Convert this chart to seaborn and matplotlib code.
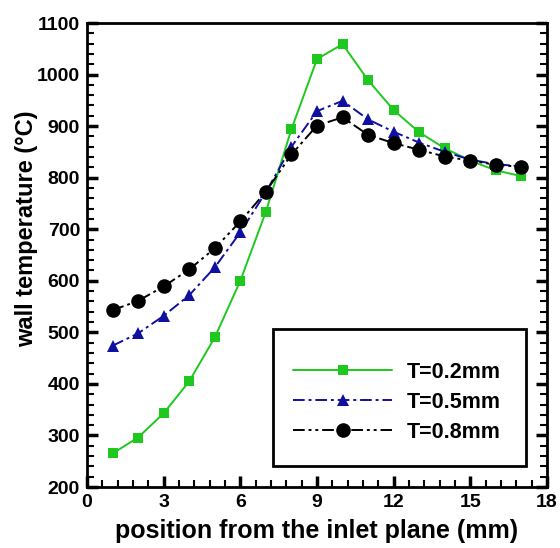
import matplotlib
matplotlib.use("Agg")
import matplotlib.pyplot as plt
from matplotlib.ticker import MultipleLocator
from matplotlib.patches import Rectangle
import numpy as np
import pandas as pd
import seaborn as sns

# Wall temperature along the channel for three wall thicknesses
position_mm = [1, 2, 3, 4, 5, 6, 7, 8, 9, 10, 11, 12, 13, 14, 15, 16, 17]
temp_t02 = [265, 296, 343, 405, 490, 600, 734, 894, 1030, 1059, 989, 931, 888, 857, 833, 814, 803]
temp_t05 = [474, 498, 532, 572, 626, 694, 772, 860, 929, 949, 913, 889, 868, 850, 835, 826, 822]
temp_t08 = [543, 561, 589, 622, 663, 715, 773, 845, 901, 917, 883, 867, 854, 841, 833, 825, 821]
series_labels = ["T=0.2mm", "T=0.5mm", "T=0.8mm"]

df = pd.concat([
    pd.DataFrame({"pos": position_mm, "temp": vals, "case": lab})
    for vals, lab in zip([temp_t02, temp_t05, temp_t08], series_labels)
])

sns.set_theme(style="white")
plt.rcParams["font.family"] = ["Liberation Sans", "DejaVu Sans"]
plt.rcParams["font.weight"] = "bold"
plt.rcParams["text.color"] = "black"
plt.rcParams["axes.labelcolor"] = "black"

fig = plt.figure(figsize=(5.6, 5.48), dpi=100)
ax = fig.add_axes([87 / 560, 1 - 487 / 548, 460 / 560, 464 / 548])

palette = {"T=0.2mm": "#1ec81e", "T=0.5mm": "#1010a0", "T=0.8mm": "#000000"}
markers = {"T=0.2mm": "s", "T=0.5mm": "^", "T=0.8mm": "o"}
dashes = {"T=0.2mm": "", "T=0.5mm": (6, 2, 1.5, 2), "T=0.8mm": (6, 2, 1.5, 2, 1.5, 2)}

sns.lineplot(data=df, x="pos", y="temp", hue="case", style="case",
             palette=palette, markers=markers, dashes=dashes,
             linewidth=1.4, markersize=7, markeredgewidth=0, ax=ax)

# enlarge the circle and triangle markers
for line in ax.get_lines():
    if line.get_marker() == "o":
        line.set_markersize(10.5)
    elif line.get_marker() == "^":
        line.set_markersize(8)

ax.set_xlim(0, 18)
ax.set_ylim(200, 1100)
ax.xaxis.set_major_locator(MultipleLocator(3))
ax.xaxis.set_minor_locator(MultipleLocator(0.6))
ax.yaxis.set_major_locator(MultipleLocator(100))
ax.yaxis.set_minor_locator(MultipleLocator(20))
ax.tick_params(which="both", direction="in", left=True, right=True, bottom=True, top=False,
               labelsize=14, colors="black")
ax.tick_params(which="major", length=8, width=2.5, pad=5)
ax.tick_params(which="minor", length=5, width=1.5)
for lab in ax.get_xticklabels() + ax.get_yticklabels():
    lab.set_fontweight("bold")

for sp in ax.spines.values():
    sp.set_color("black")
    sp.set_linewidth(2)

ax.set_xlabel("position from the inlet plane (mm)", fontsize=18, fontweight="bold", labelpad=6)
ax.set_ylabel("wall temperature (°C)", fontsize=17, fontweight="bold")
ax.yaxis.set_label_coords(-0.107, 0.556)

# legend box drawn as a separate frame
ax.add_patch(Rectangle((0.404, 0.046), 0.551, 0.294, transform=ax.transAxes,
                       facecolor="white", edgecolor="black", linewidth=2, zorder=4))
handles, labels = ax.get_legend_handles_labels()
leg = ax.legend(handles, labels, loc="center left", bbox_to_anchor=(0.448, 0.183),
                prop={"size": 15.5, "weight": "bold"}, frameon=False,
                handlelength=4.6, handletextpad=0.7,
                borderpad=0, labelspacing=0.42, borderaxespad=0)
leg.set_zorder(5)
for h in leg.legend_handles:
    if h.get_marker() == "o":
        h.set_markersize(10.5)
    elif h.get_marker() == "^":
        h.set_markersize(8)

fig.savefig("out.png", dpi=100)
